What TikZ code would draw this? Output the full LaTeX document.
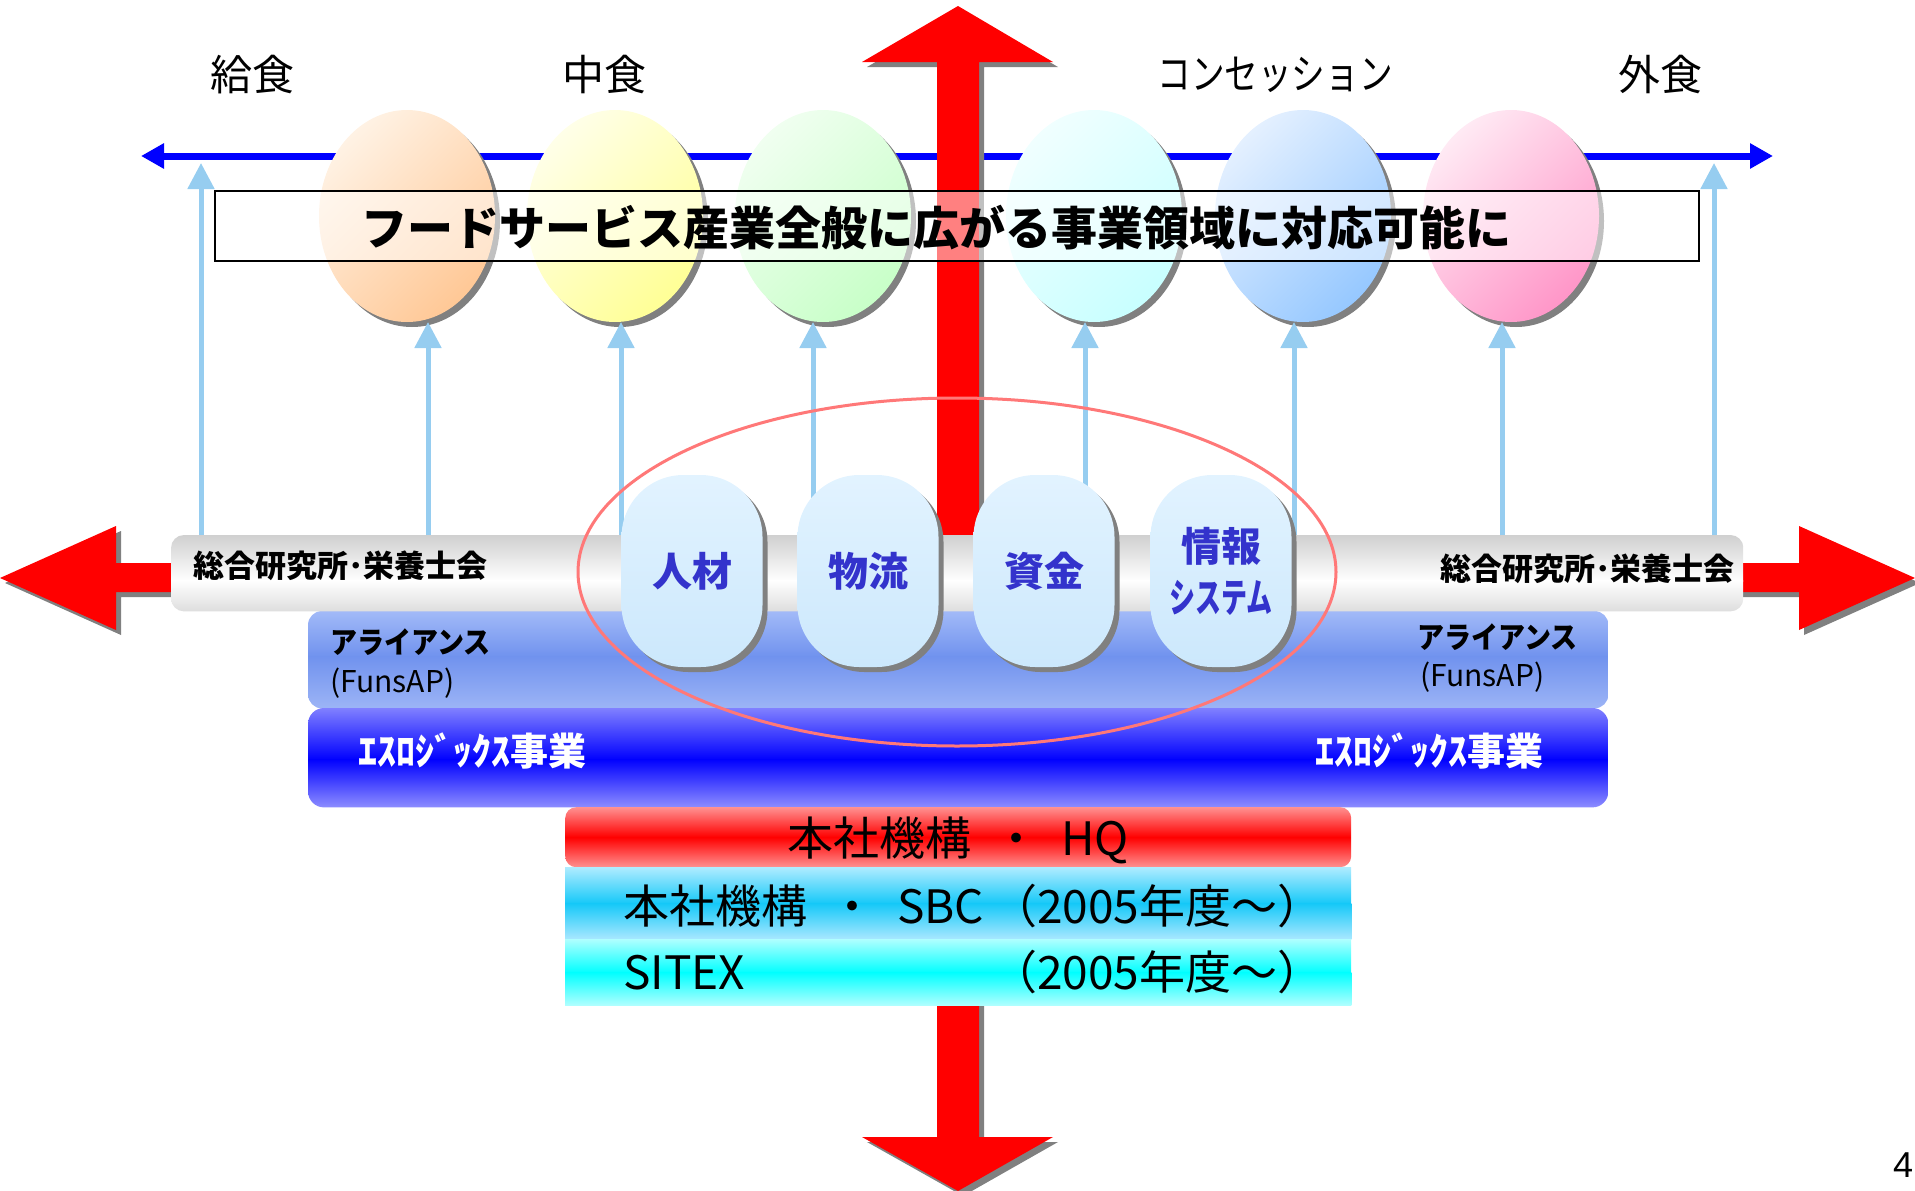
\documentclass[tikz,border=0pt]{standalone}
\usepackage{fontspec}
\usepackage{graphicx}
\setmainfont{Noto Sans CJK JP}
\newfontfamily\numfont{Liberation Sans}
\usetikzlibrary{shapes.geometric,arrows.meta,shadows,calc}
\newcommand\myfs[1]{\fontsize{#1pt}{#1pt}\selectfont}
\definecolor{shadowgray}{RGB}{128,128,128}
\definecolor{lblue}{RGB}{150,205,240}
\definecolor{ringred}{RGB}{255,120,120}
\definecolor{txtblue}{RGB}{51,51,204}
\definecolor{redfill}{RGB}{255,0,0}
\definecolor{bluearrow}{RGB}{0,0,255}
\definecolor{orA}{RGB}{255,242,228}\definecolor{orB}{RGB}{255,200,150}
\definecolor{yeA}{RGB}{255,255,232}\definecolor{yeB}{RGB}{255,255,150}
\definecolor{grA}{RGB}{240,255,240}\definecolor{grB}{RGB}{200,255,200}
\definecolor{cyA}{RGB}{240,255,255}\definecolor{cyB}{RGB}{200,255,255}
\definecolor{buA}{RGB}{228,240,255}\definecolor{buB}{RGB}{150,200,255}
\definecolor{piA}{RGB}{255,234,244}\definecolor{piB}{RGB}{255,150,200}
\colorlet{orAl}{orA!50!white}\colorlet{orBl}{orB!50!white}
\colorlet{yeAl}{yeA!50!white}\colorlet{yeBl}{yeB!50!white}
\colorlet{grAl}{grA!50!white}\colorlet{grBl}{grB!50!white}
\colorlet{cyAl}{cyA!50!white}\colorlet{cyBl}{cyB!50!white}
\colorlet{buAl}{buA!50!white}\colorlet{buBl}{buB!50!white}
\colorlet{piAl}{piA!50!white}\colorlet{piBl}{piB!50!white}
\colorlet{shadowlight}{shadowgray!50!white}
\colorlet{redlight}{redfill!50!white}
\definecolor{smA}{RGB}{226,243,255}\definecolor{smB}{RGB}{204,232,252}
\definecolor{alA}{RGB}{162,186,248}\definecolor{alM}{RGB}{112,146,238}\definecolor{alB}{RGB}{156,180,246}
\definecolor{esA}{RGB}{128,128,255}\definecolor{esB}{RGB}{140,140,255}
\definecolor{gyA}{RGB}{208,208,208}\definecolor{gyB}{RGB}{222,222,222}
\definecolor{hqA}{RGB}{255,145,145}
\definecolor{sbA}{RGB}{176,236,255}\definecolor{sbM}{RGB}{20,200,248}\definecolor{sbB}{RGB}{170,232,255}
\definecolor{siA}{RGB}{176,255,255}\definecolor{siM}{RGB}{0,255,255}
\pgfdeclareverticalshading{hqshade}{100bp}{color(0bp)=(hqA); color(25bp)=(hqA); color(50bp)=(redfill); color(75bp)=(hqA); color(100bp)=(hqA)}
\begin{document}
\begin{tikzpicture}[x=1pt,y=-1pt,
  bigell/.style 2 args={ellipse, minimum width=176pt, minimum height=212pt, inner sep=0pt,
     top color=#1, bottom color=#2, shading angle=45,
     drop shadow={shadow xshift=5pt, shadow yshift=-5pt, fill=shadowgray, opacity=1}},
  smallell/.style={rectangle, rounded corners=62pt, minimum width=141pt, minimum height=192pt, inner sep=0pt,
     top color=smA, bottom color=smB,
     drop shadow={shadow xshift=5pt, shadow yshift=-5pt, fill=shadowgray, opacity=1},
     text=txtblue, font=\bfseries\myfs{40}, align=center},
  upar/.style={draw=lblue, line width=5pt, -{Triangle[length=26pt,width=26pt]}},
  bar/.style={anchor=north west, inner sep=0pt},
  lbl/.style={inner sep=0pt, font=\myfs{42}},
  bartxt/.style={inner sep=0pt, font=\bfseries\myfs{31}},
  alltxt/.style={inner sep=0pt, font=\bfseries\myfs{30}},
  funtxt/.style={inner sep=0pt, font=\myfs{30}},
  eslotxt/.style={inner sep=0pt, text=white, font=\bfseries\myfs{38}},
  hqtxt/.style={inner sep=0pt, font=\myfs{46}},
  redarrow/.style={fill=redfill}
]
\useasboundingbox (0,0) rectangle (1915,1191);

% blue horizontal double arrow
\coordinate (bl) at (141,156);
\coordinate (br) at (1773,156);
\draw[bluearrow, line width=7pt, {Triangle[length=23pt,width=24pt]}-{Triangle[length=23pt,width=24pt]}] (bl) -- (br);

% red vertical double arrow
\begin{scope}[shift={(5,5)}]
\fill[shadowgray] (937,62) -- (862,62) -- (958,6) -- (1053,62) -- (979,62) -- (979,1137) -- (1053,1137) -- (958,1191) -- (862,1137) -- (937,1137) -- cycle;
\end{scope}
\fill[redarrow] (937,62) -- (862,62) -- (958,6) -- (1053,62) -- (979,62) -- (979,1137) -- (1053,1137) -- (958,1191) -- (862,1137) -- (937,1137) -- cycle;

% big ellipses
\node[bigell={orA}{orB}] (e1) at (407,216) {};
\node[bigell={yeA}{yeB}] (e2) at (615,216) {};
\node[bigell={grA}{grB}] (e3) at (823,216) {};
\node[bigell={cyA}{cyB}] (e4) at (1094,216) {};
\node[bigell={buA}{buB}] (e5) at (1303,216) {};
\node[bigell={piA}{piB}] (e6) at (1511,216) {};

% top labels
\node[lbl] (l1) at (252,75) {給食};
\node[lbl] (l2) at (604,75) {中食};
\node[lbl] (l3) at (1275,75) {\scalebox{0.8}[1]{コンセッション}};
\node[lbl] (l4) at (1660,75) {外食};

% banner box: half-white veil over what lies beneath
\node[anchor=north west, inner sep=0pt, minimum width=1484pt, minimum height=70pt] (box) at (215,191) {};
\begin{scope}
\clip (box.north west) rectangle (box.south east);
\fill[white] (box.north west) rectangle (box.south east);
\fill[shadowlight] (942,150) rectangle (984,300);
\fill[redlight] (937,150) rectangle (979,300);
\foreach \e/\ca/\cb in {e1/orAl/orBl, e2/yeAl/yeBl, e3/grAl/grBl, e4/cyAl/cyBl, e5/buAl/buBl, e6/piAl/piBl}{
  \fill[shadowlight] ($(\e.center)+(5,5)$) ellipse [x radius=88pt, y radius=106pt];
  \shade[top color=\ca, bottom color=\cb, shading angle=45] (\e.center) ellipse [x radius=88pt, y radius=106pt];
}
\end{scope}
\draw[black, line width=2pt] (box.north west) rectangle (box.south east);
\node[inner sep=0pt, anchor=west, font=\bfseries\myfs{46}] (boxt) at (361,228) {フードサービス産業全般に広がる事業領域に対応可能に};

% red horizontal double arrow
\begin{scope}[shift={(5,5)}]
\fill[shadowgray] (0,578) -- (116,526) -- (116,563) -- (1799,563) -- (1799,526) -- (1915,578) -- (1799,630) -- (1799,592) -- (116,592) -- (116,630) -- cycle;
\end{scope}
\fill[redarrow] (0,578) -- (116,526) -- (116,563) -- (1799,563) -- (1799,526) -- (1915,578) -- (1799,630) -- (1799,592) -- (116,592) -- (116,630) -- cycle;

% bars (gradients built from two halves)
\node[bar, minimum width=1300pt, minimum height=97pt] (abar) at (308,611) {};
\begin{scope}
\clip[rounded corners=14pt] (abar.north west) rectangle (abar.south east);
\shade[top color=alA, bottom color=alM] (308,611) rectangle (1608,657);
\shade[top color=alM, bottom color=alB] (308,656) rectangle (1608,708);
\end{scope}
\node[bar, minimum width=1300pt, minimum height=99pt] (ebar) at (308,708) {};
\begin{scope}
\clip[rounded corners=16pt] (ebar.north west) rectangle (ebar.south east);
\shade[top color=esA, bottom color=bluearrow] (308,708) rectangle (1608,760);
\shade[top color=bluearrow, bottom color=esB] (308,759) rectangle (1608,807);
\end{scope}
\node[bar, minimum width=1572pt, minimum height=76pt] (gbar) at (171,535) {};
\begin{scope}
\clip[rounded corners=13pt] (gbar.north west) rectangle (gbar.south east);
\shade[top color=gyA, bottom color=white] (171,535) rectangle (1743,581);
\shade[top color=white, bottom color=gyB] (171,580) rectangle (1743,611);
\end{scope}
\node[bar, minimum width=786pt, minimum height=60pt, rounded corners=11pt, shade, shading=hqshade] (hqbar) at (565,807) {};
\node[bar, minimum width=786pt, minimum height=72pt] (sbcbar) at (565,867) {};
\shade[top color=sbA, bottom color=sbM] (sbcbar.north west) rectangle (1351,904);
\shade[top color=sbM, bottom color=sbB] (565,903) rectangle (sbcbar.south east);
\node[bar, minimum width=786pt, minimum height=66pt] (sitbar) at (565,939) {};
\shade[top color=siA, bottom color=siM] (sitbar.north west) rectangle (1351,973);
\shade[top color=siM, bottom color=siA] (565,972) rectangle (sitbar.south east);

% light blue arrows
\coordinate (t0) at (201,163);
\coordinate (t1) at (428,322);
\coordinate (t2) at (621,322);
\coordinate (t3) at (813,322);
\coordinate (t4) at (1085,322);
\coordinate (t5) at (1294,322);
\coordinate (t6) at (1502,322);
\coordinate (t7) at (1714,163);
\foreach \t in {t0,t1,t2,t3,t4,t5,t6,t7}{
  \draw[upar] (gbar.north -| \t) -- (\t);
}

% red ring
\node[draw=ringred, line width=3pt, ellipse, minimum width=758pt, minimum height=348pt, inner sep=0pt] (ring) at (957,572) {};

% small capsules
\node[smallell] (s1) at (692,571) {人材};
\node[smallell] (s2) at (868,571) {物流};
\node[smallell] (s3) at (1044,571) {資金};
\node[smallell] (s4) at (1221,571) {情報\\[11pt]\scalebox{0.65}[1]{システム}};

% bar texts
\node[bartxt, anchor=west] (g1) at (193,566) {総合研究所･栄養士会};
\node[bartxt, anchor=east] (g2) at (1735,569) {総合研究所･栄養士会};
\node[alltxt, anchor=west] (a1) at (330,642) {\scalebox{0.9}[1]{アライアンス}};
\node[funtxt, anchor=west] (f1) at (330,683) {(FunsAP)};
\node[alltxt, anchor=west] (a2) at (1417,637) {\scalebox{0.9}[1]{アライアンス}};
\node[funtxt, anchor=west] (f2) at (1420,677) {(FunsAP)};
\node[eslotxt, anchor=west] (x1) at (358,751) {ｴｽﾛｼﾞｯｸｽ事業};
\node[eslotxt, anchor=east] (x2) at (1544,751) {ｴｽﾛｼﾞｯｸｽ事業};
\node[hqtxt] (hq) at (958,840) {本社機構\hspace{22pt}・\hspace{22pt}HQ};
\node[hqtxt, anchor=west] (sbc) at (623,906) {\makebox[368pt][l]{本社機構\hspace{22pt}・\hspace{22pt}SBC}（2005年度～）};
\node[hqtxt, anchor=west] (sit) at (623,972) {\makebox[368pt][l]{SITEX}（2005年度～）};

% page number
\node[inner sep=0pt, font=\numfont\myfs{36}] (pg) at (1903,1165) {4};
\end{tikzpicture}
\end{document}
